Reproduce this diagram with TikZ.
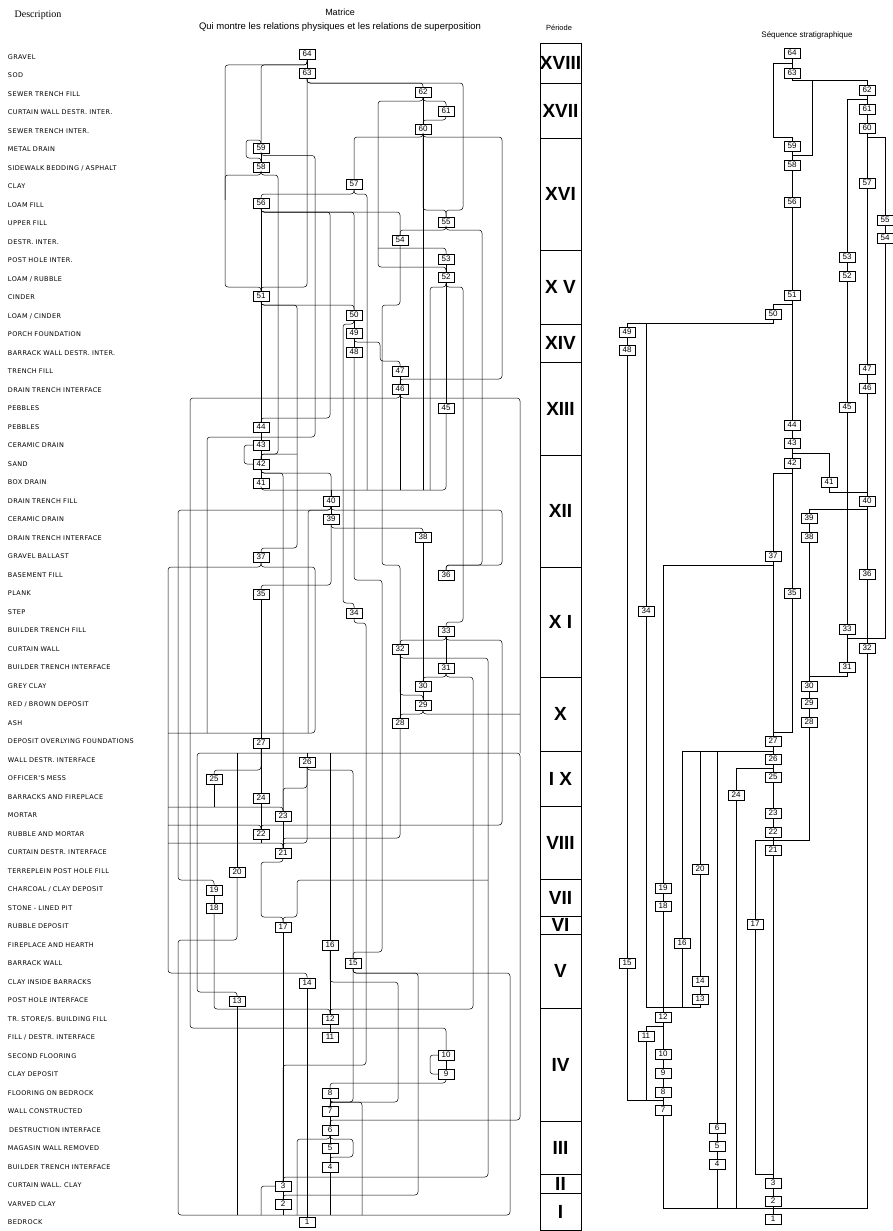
\documentclass[tikz,border=0pt]{standalone}
\usepackage{fontspec}
\setmainfont{Liberation Sans}
\newfontfamily\lblfont[LetterSpace=6]{DejaVu Sans}
\newfontfamily\hdfont{Liberation Serif}
\usetikzlibrary{positioning}

\begin{document}
\begin{tikzpicture}[
				x = 1pt, y = -1pt, % one unit per pixel, y downwards
				node distance = 18.5pt, % row spacing of the descriptions
				line width = 0.5pt, % line style
				font=\fontsize{8}{8}\selectfont
				]
				
				\tikzstyle{unit}=[
				draw,
				inner sep = 0pt,
				minimum width = 16pt,
				minimum height = 10pt,
				font = \fontsize{8}{8}\selectfont
				]
				\tikzstyle{desc}=[text width = 150pt, align = left, inner sep = 0pt,
				font = \lblfont\fontsize{6.5}{6.5}\selectfont]
				\tikzstyle{period}=[draw, line width = 0.6pt, minimum width = 41pt, inner sep = 0pt,
				font = \fontsize{19}{19}\selectfont\bfseries]
				\tikzstyle{wire}=[rounded corners = 3pt]
				
				\useasboundingbox (0,0) rectangle (893,1231);
				
				% titles
				\node[font=\hdfont\fontsize{10}{10}\selectfont] (hdesc) at (38,15) {Description};
				\node[font=\fontsize{9}{9}\selectfont] (hmat) at (340,12) {Matrice};
				\node[font=\fontsize{9.5}{9.5}\selectfont] (hsub) at (340,27) {Qui montre les relations physiques et les relations de superposition};
				\node[font=\fontsize{7.5}{7.5}\selectfont] (hper) at (559,28) {Période};
				\node[font=\fontsize{8}{8}\selectfont] (hseq) at (807,35) {Séquence stratigraphique};
				
				% descriptions
				\node[desc] (d64) at (83,57) {GRAVEL};
				\node[desc] (d63) [below of=d64] {SOD};
				\node[desc] (d62) [below of=d63] {SEWER TRENCH FILL};
				\node[desc] (d61) [below of=d62] {CURTAIN WALL DESTR. INTER.};
				\node[desc] (d60) [below of=d61] {SEWER TRENCH INTER.};
				\node[desc] (d59) [below of=d60] {METAL DRAIN};
				\node[desc] (d58) [below of=d59] {SIDEWALK BEDDING / ASPHALT};
				\node[desc] (d57) [below of=d58] {CLAY};
				\node[desc] (d56) [below of=d57] {LOAM FILL};
				\node[desc] (d55) [below of=d56] {UPPER FILL};
				\node[desc] (d54) [below of=d55] {DESTR. INTER.};
				\node[desc] (d53) [below of=d54] {POST HOLE INTER.};
				\node[desc] (d52) [below of=d53] {LOAM / RUBBLE};
				\node[desc] (d51) [below of=d52] {CINDER};
				\node[desc] (d50) [below of=d51] {LOAM / CINDER};
				\node[desc] (d49) [below of=d50] {PORCH FOUNDATION};
				\node[desc] (d48) [below of=d49] {BARRACK WALL DESTR. INTER.};
				\node[desc] (d47) [below of=d48] {TRENCH FILL};
				\node[desc] (d46) [below of=d47] {DRAIN TRENCH INTERFACE};
				\node[desc] (d45) [below of=d46] {PEBBLES};
				\node[desc] (d44) [below of=d45] {PEBBLES};
				\node[desc] (d43) [below of=d44] {CERAMIC DRAIN};
				\node[desc] (d42) [below of=d43] {SAND};
				\node[desc] (d41) [below of=d42] {BOX DRAIN};
				\node[desc] (d40) [below of=d41] {DRAIN TRENCH FILL};
				\node[desc] (d39) [below of=d40] {CERAMIC DRAIN};
				\node[desc] (d38) [below of=d39] {DRAIN TRENCH INTERFACE};
				\node[desc] (d37) [below of=d38] {GRAVEL BALLAST};
				\node[desc] (d36) [below of=d37] {BASEMENT FILL};
				\node[desc] (d35) [below of=d36] {PLANK};
				\node[desc] (d34) [below of=d35] {STEP};
				\node[desc] (d33) [below of=d34] {BUILDER TRENCH FILL};
				\node[desc] (d32) [below of=d33] {CURTAIN WALL};
				\node[desc] (d31) [below of=d32] {BUILDER TRENCH INTERFACE};
				\node[desc] (d30) [below of=d31] {GREY CLAY};
				\node[desc] (d29) [below of=d30] {RED / BROWN DEPOSIT};
				\node[desc] (d28) [below of=d29] {ASH};
				\node[desc] (d27) [below of=d28] {DEPOSIT OVERLYING FOUNDATIONS};
				\node[desc] (d26) [below of=d27] {WALL DESTR. INTERFACE};
				\node[desc] (d25) [below of=d26] {OFFICER'S MESS};
				\node[desc] (d24) [below of=d25] {BARRACKS AND FIREPLACE};
				\node[desc] (d23) [below of=d24] {MORTAR};
				\node[desc] (d22) [below of=d23] {RUBBLE AND MORTAR};
				\node[desc] (d21) [below of=d22] {CURTAIN DESTR. INTERFACE};
				\node[desc] (d20) [below of=d21] {TERREPLEIN POST HOLE FILL};
				\node[desc] (d19) [below of=d20] {CHARCOAL / CLAY DEPOSIT};
				\node[desc] (d18) [below of=d19] {STONE - LINED PIT};
				\node[desc] (d17) [below of=d18] {RUBBLE DEPOSIT};
				\node[desc] (d16) [below of=d17] {FIREPLACE AND HEARTH};
				\node[desc] (d15) [below of=d16] {BARRACK WALL};
				\node[desc] (d14) [below of=d15] {CLAY INSIDE BARRACKS};
				\node[desc] (d13) [below of=d14] {POST HOLE INTERFACE};
				\node[desc] (d12) [below of=d13] {TR. STORE/S. BUILDING FILL};
				\node[desc] (d11) [below of=d12] {FILL / DESTR. INTERFACE};
				\node[desc] (d10) [below of=d11] {SECOND FLOORING};
				\node[desc] (d9) [below of=d10] {CLAY DEPOSIT};
				\node[desc] (d8) [below of=d9] {FLOORING ON BEDROCK};
				\node[desc] (d7) [below of=d8] {WALL CONSTRUCTED};
				\node[desc] (d6) [below of=d7] {\,DESTRUCTION INTERFACE};
				\node[desc] (d5) [below of=d6] {MAGASIN WALL REMOVED};
				\node[desc] (d4) [below of=d5] {BUILDER TRENCH INTERFACE};
				\node[desc] (d3) [below of=d4] {CURTAIN WALL. CLAY};
				\node[desc] (d2) [below of=d3] {VARVED CLAY};
				\node[desc] (d1) [below of=d2] {BEDROCK};
				
				% matrix units
				\node[unit] (m64) at (307,54) {64};
				\node[unit] (m63) at (307,73) {63};
				\node[unit] (m62) at (423,92) {62};
				\node[unit] (m61) at (446,111) {61};
				\node[unit] (m60) at (423,129) {60};
				\node[unit] (m59) at (261,148) {59};
				\node[unit] (m58) at (261,167) {58};
				\node[unit] (m57) at (354,184) {57};
				\node[unit] (m56) at (261,203) {56};
				\node[unit] (m55) at (446,222) {55};
				\node[unit] (m54) at (400,240) {54};
				\node[unit] (m53) at (446,259) {53};
				\node[unit] (m52) at (446,277) {52};
				\node[unit] (m51) at (261,296) {51};
				\node[unit] (m50) at (354,315) {50};
				\node[unit] (m49) at (354,333) {49};
				\node[unit] (m48) at (354,352) {48};
				\node[unit] (m47) at (400,371) {47};
				\node[unit] (m46) at (400,389) {46};
				\node[unit] (m45) at (446,408) {45};
				\node[unit] (m44) at (261,427) {44};
				\node[unit] (m43) at (261,445) {43};
				\node[unit] (m42) at (261,464) {42};
				\node[unit] (m41) at (261,483) {41};
				\node[unit] (m40) at (331,501) {40};
				\node[unit] (m39) at (331,519) {39};
				\node[unit] (m38) at (423,537) {38};
				\node[unit] (m37) at (261,557) {37};
				\node[unit] (m36) at (446,575) {36};
				\node[unit] (m35) at (261,594) {35};
				\node[unit] (m34) at (354,613) {34};
				\node[unit] (m33) at (446,631) {33};
				\node[unit] (m32) at (400,649) {32};
				\node[unit] (m31) at (446,668) {31};
				\node[unit] (m30) at (423,686) {30};
				\node[unit] (m29) at (423,705) {29};
				\node[unit] (m28) at (400,723) {28};
				\node[unit] (m27) at (261,743) {27};
				\node[unit] (m26) at (307,762) {26};
				\node[unit] (m25) at (214,779) {25};
				\node[unit] (m24) at (261,798) {24};
				\node[unit] (m23) at (283,816) {23};
				\node[unit] (m22) at (261,834) {22};
				\node[unit] (m21) at (283,853) {21};
				\node[unit] (m20) at (237,872) {20};
				\node[unit] (m19) at (214,890) {19};
				\node[unit] (m18) at (214,908) {18};
				\node[unit] (m17) at (283,927) {17};
				\node[unit] (m16) at (330,945) {16};
				\node[unit] (m15) at (353,963) {15};
				\node[unit] (m14) at (307,983) {14};
				\node[unit] (m13) at (237,1001) {13};
				\node[unit] (m12) at (330,1019) {12};
				\node[unit] (m11) at (330,1037) {11};
				\node[unit] (m10) at (446,1055) {10};
				\node[unit] (m9) at (446,1074) {9};
				\node[unit] (m8) at (330,1093) {8};
				\node[unit] (m7) at (330,1111) {7};
				\node[unit] (m6) at (330,1130) {6};
				\node[unit] (m5) at (330,1148) {5};
				\node[unit] (m4) at (330,1167) {4};
				\node[unit] (m3) at (283,1186) {3};
				\node[unit] (m2) at (283,1204) {2};
				\node[unit] (m1) at (307,1222) {1};
				
				% junction points of the matrix
				\coordinate (t225) at (225,200);
				\coordinate (r53) at (378,248);
				\coordinate (r42) at (297,454);
				\coordinate (r17) at (488,880);
				\coordinate (j40) at (331,490);
				\coordinate (t430) at (430,490);
				\coordinate (t367) at (367,490);
				\coordinate (j27) at (261,753);
				\coordinate (t520) at (520,753);
				\coordinate (t714) at (520,714);
				\coordinate (t733) at (168,733);
				\coordinate (t207) at (207,733);
				\coordinate (t308) at (308,733);
				\coordinate (t807) at (168,807);
				\coordinate (t825) at (168,825);
				\coordinate (t843) at (168,843);
				\coordinate (b1) at (307,1215);
				\coordinate (b261) at (261,1215);
				\coordinate (b297) at (297,1215);
				\coordinate (b362) at (362,1215);
				
				% matrix relations
				\draw[wire] (m64) -- (m63);
				\draw[wire] (m64.south) -- (307,65) -- (225,65) -- (225,287) -| (m51.north);
				\draw[wire] (m64.south) -- (307,65) -- (261,65) -- (m59.north);
				\draw[wire] (m63.south) -- (307,287) -| (m51.north);
				\draw[wire] (m63.south) -- (307,83) -| (m62.north);
				\draw[wire] (m63.south) -- (307,83) -- (463,83) -- (463,210) -- (446,210) -- (m55.north);
				\draw[wire] (m62) -- (m60);
				\draw[wire] (m62.south) -- (423,101) -| (m61.north);
				\draw[wire] (m61.south) -- (446,120) -| (m60.north);
				\draw[wire] (m62.south) -- (423,101) -- (378,101) -- (378,267) -| (m52.north);
				\draw[wire] (r53) -| (m53.north);
				\draw[wire] (m52.south) -- (446,287) -- (463,287) -- (463,622) -| (m33.north);
				\draw[wire] (m52.south) -- (446,287) -- (430,287) -- (t430);
				\draw[wire] (m52) -- (m45);
				\draw[wire] (m60.south) -- (423,137) -| (m57.north);
				\draw[wire] (m60.south) -- (423,137) -- (502,137) -- (502,379) -| (m46.north);
				\draw[wire] (m60.south) -- (423,210) -| (m55.north);
				\draw (m60.south) -- (m60.south |- j40);
				\draw[wire] (m59.north) -- (261,140) -- (246,140) -- (246,158) -- (261,158) -- (m58.north);
				\draw[wire] (m59.south) -- (261,155.5) -- (315,155.5) -- (315,437) -- (207,437) -- (t207);
				\draw[wire] (m59) -- (m58);
				\draw[wire] (m58.south) -- (261,175) -- (278,175) -- (278,454) -| (m42.north);
				\draw[wire] (m58.south) -- (261,175) -- (225,175) -- (t225);
				\draw[wire] (m57.south) -- (354,194) -| (m56.north);
				\draw[wire] (m57.south) -- (354,194) -- (367,194) -- (t367);
				\draw[wire] (m56.south) -- (261,212) -| (m54.north);
				\draw[wire] (m56.south) -- (261,212) -| (m50.north);
				\draw[wire] (m56.south) -- (261,212) -- (330,212) -- (330,418) -| (m44.north);
				\draw[wire] (m56) -- (m51);
				\draw[wire] (m55.south) -- (446,230) -| (m54.north);
				\draw[wire] (m55.south) -- (446,230) -- (482,230) -- (482,565) -| (m36.north);
				\draw[wire] (m54.south) -- (400,305) -- (382,305) -- (382,565) -- (400,565) -- (m32.north);
				\draw[wire] (m53) -- (m52);
				\draw[wire] (m51.south) -- (261,305) -| (m50.north);
				\draw[wire] (m51.south) -- (261,305) -- (297,305) -- (297,548) -| (m37.north);
				\draw[wire] (r42) -| (m42.north);
				\draw[wire] (m51) -- (m44);
				\draw[wire] (m50) -- (m49);
				\draw[wire] (m49) -- (m48);
				\draw[wire] (m50.south) -- (354,324) -- (343,324) -- (343,603) -| (m34.north);
				\draw[wire] (m49.south) -- (354,342) -- (380,342) -- (380,361) -| (m47.north);
				\draw[wire] (m48.south) -- (354,580) -- (382,580) -- (382,952) -| (m15.north);
				\draw[wire] (m47) -- (m46);
				\draw[wire] (m46.south) -- (400,398) -- (190,398) -- (190,1028) -| (m10.north);
				\draw[wire] (m46.south) -- (400,398) -- (520,398) -- (t520);
				\draw (m46.south) -- (m46.south |- j40);
				\draw[wire] (m41.south) |- (446,490) -- (m45.south);
				\draw (j40) -- (m40.north);
				\draw[wire] (m44) -- (m43);
				\draw[wire] (m43) -- (m42);
				\draw[wire] (m42) -- (m41);
				\draw[wire] (m43.west) -- (244,445) -- (244,464) -- (m42.west);
				\draw[wire] (m42.south) -- (261,473) -| (m23.north);
				\draw[wire] (m42.south) -- (261,473) -| (m40.north);
				\draw[wire] (m40) -- (m39);
				\draw[wire] (m40.south) -- (331,510) -- (178,510) -- (178,880) -| (m19.north);
				\draw[wire] (m40.south) -- (331,510) -- (308,510) -- (t308);
				\draw[wire] (m40.south) -- (331,510) -- (502,510) -- (502,565) -| (m36.north);
				\draw[wire] (m39.south) -- (331,528) -| (m38.north);
				\draw[wire] (m39.south) -- (331,585) -| (m35.north);
				\draw[wire] (m38) -- (m30);
				\draw[wire] (m37.south) -- (261,567) -- (168,567) -- (168,973) -| (m14.north);
				\draw[wire] (m37.south) -- (261,567) -- (315,567) -- (315,733) -- (t733);
				\draw (m27.north) -- (m27.north |- t733);
				\draw[wire] (t807) -| (m23.north);
				\draw[wire] (t825) -| (m22.north);
				\draw[wire] (t843) -| (m21.north);
				\draw[wire] (m35) -- (m27);
				\draw[wire] (m34.south) -- (354,623) -- (366,623) -- (366,1065) -| (m3.north);
				\draw[wire] (m33) -- (m31);
				\draw[wire] (m33.south) -- (446,640) -| (m32.north);
				\draw[wire] (m33.south) -- (446,640) -- (502,640) -- (502,825) -| (m22.north);
				\draw[wire] (m32.south) -- (400,658) -- (488,658) -- (488,1177) -| (m3.north);
				\draw[wire] (r17) -- (297,880) -- (297,917) -| (m17.north);
				\draw[wire] (m32.south) -- (400,695) -| (m29.north);
				\draw[wire] (m32) -- (m28);
				\draw[wire] (m31.south) -- (446,677) -| (m30.north);
				\draw[wire] (m31.south) -- (446,677) -- (473,677) -- (473,1009) -| (m12.north);
				\draw[wire] (m30) -- (m29);
				\draw[wire] (m29.south) -- (423,714) -| (m28.north);
				\draw[wire] (m29.south) -- (423,714) -- (t714);
				\draw[wire] (m28.south) -- (400,838) -| (m21.north);
				\draw[wire] (m13.north) -- (237,992) -- (197,992) -- (197,753) -- (520,753) -- (520,1120) -| (m6.north);
				\draw (m26.north) -- (m26.north |- j27);
				\draw (m16.north) -- (m16.north |- j27);
				\draw (m20.north) -- (m20.north |- j27);
				\draw[wire] (m27) -- (m24);
				\draw[wire] (m27.south) -- (261,770) -| (m25.north);
				\draw[wire] (m26.south) -- (307,770) -| (m15.north);
				\draw[wire] (m26.south) -- (307,788) -| (m23.north);
				\draw[wire] (m26.south) -- (307,843) -| (m21.north);
				\draw (m25.south) -- (m25.south |- t807);
				\draw[wire] (m24) -- (m22);
				\draw[wire] (m23) -- (m21);
				\draw (m22.south) -- (m22.south |- t843);
				\draw[wire] (m21.south) -- (283,862) -- (261,862) -- (261,917) -| (m17.north);
				\draw[wire] (m20.south) -- (237,940) -- (178,940) -- (178,1215) -- (510,1215) -- (510,973) -- (353,973) -- (m15.south);
				\draw[wire] (m19) -- (m18);
				\draw[wire] (m18.south) -- (214,1009) -| (m12.north);
				\draw[wire] (m17) -- (m3);
				\draw[wire] (m16) -- (m12);
				\draw[wire] (m16.south) -- (330,982) -- (398,982) -- (398,1102) -| (m7.north);
				\draw[wire] (m15.south) -- (353,1102) -| (m7.north);
				\draw[wire] (m15.south) -- (353,973) -- (418,973) -- (418,1195) -| (m2.north);
				\draw[wire] (m14) -- (m1);
				\draw (m13.south) -- (m13.south |- b1);
				\draw[wire] (m12) -- (m11);
				\draw[wire] (m10) -- (m9);
				\draw[wire] (m10.west) -- (430,1055) -- (430,1074) -- (m9.west);
				\draw[wire] (m9.south) -- (446,1083) -| (m8.north);
				\draw[wire] (m8) -- (m7);
				\draw[wire] (m7) -- (m6);
				\draw[wire] (m6) -- (m5);
				\draw[wire] (m5) -- (m4);
				\draw[wire] (m8.south) -- (330,1102) -- (362,1102) -- (b362);
				\draw[wire] (m6.south) -- (330,1139) -- (297,1139) -- (b297);
				\draw[wire] (m6.south) -- (330,1139) -- (353,1139) -- (353,1157) -| (m4.north);
				\draw (m4.south) -- (m4.south |- b1);
				\draw[wire] (m3) -- (m2);
				\draw[wire] (m3.west) -- (261,1186) -- (b261);
				\draw (m2.south) -- (m2.south |- b1);
				
				% periods
				\node[period, minimum height=40pt] (p18) at (560.5,63) {XVIII};
				\node[period, minimum height=55pt] (p17) at (560.5,110.5) {XVII};
				\node[period, minimum height=112pt] (p16) at (560.5,194) {XVI};
				\node[period, minimum height=74pt] (p15) at (560.5,287) {X V};
				\node[period, minimum height=38pt] (p14) at (560.5,343) {XIV};
				\node[period, minimum height=93pt] (p13) at (560.5,408.5) {XIII};
				\node[period, minimum height=112pt] (p12) at (560.5,511) {XII};
				\node[period, minimum height=110pt] (p11) at (560.5,622) {X I};
				\node[period, minimum height=74pt] (p10) at (560.5,714) {X};
				\node[period, minimum height=55pt] (p9) at (560.5,778.5) {I X};
				\node[period, minimum height=73pt] (p8) at (560.5,842.5) {VIII};
				\node[period, minimum height=37pt] (p7) at (560.5,897.5) {VII};
				\node[period, minimum height=18pt] (p6) at (560.5,925) {VI};
				\node[period, minimum height=74pt] (p5) at (560.5,971) {V};
				\node[period, minimum height=113pt] (p4) at (560.5,1064.5) {IV};
				\node[period, minimum height=53pt] (p3) at (560.5,1147.5) {III};
				\node[period, minimum height=19pt] (p2) at (560.5,1183.5) {II};
				\node[period, minimum height=37pt] (p1) at (560.5,1211.5) {I};
				
				% stratigraphic sequence
				\node[unit] (s64) at (792,53) {64};
				\node[unit] (s63) at (792,73) {63};
				\node[unit] (s62) at (867,90) {62};
				\node[unit] (s61) at (867,109) {61};
				\node[unit] (s60) at (867,128) {60};
				\node[unit] (s59) at (792,146) {59};
				\node[unit] (s58) at (792,165) {58};
				\node[unit] (s57) at (867,183) {57};
				\node[unit] (s56) at (792,202) {56};
				\node[unit] (s55) at (885,220) {55};
				\node[unit] (s54) at (885,238) {54};
				\node[unit] (s53) at (847,257) {53};
				\node[unit] (s52) at (847,276) {52};
				\node[unit] (s51) at (792,295) {51};
				\node[unit] (s50) at (773,314) {50};
				\node[unit] (s49) at (627,332) {49};
				\node[unit] (s48) at (627,350) {48};
				\node[unit] (s47) at (867,369) {47};
				\node[unit] (s46) at (867,388) {46};
				\node[unit] (s45) at (847,407) {45};
				\node[unit] (s44) at (792,425) {44};
				\node[unit] (s43) at (792,443) {43};
				\node[unit] (s42) at (792,463) {42};
				\node[unit] (s41) at (829,482) {41};
				\node[unit] (s40) at (867,501) {40};
				\node[unit] (s39) at (809,518) {39};
				\node[unit] (s38) at (809,537) {38};
				\node[unit] (s37) at (773,556) {37};
				\node[unit] (s36) at (867,574) {36};
				\node[unit] (s35) at (792,593) {35};
				\node[unit] (s34) at (646,611) {34};
				\node[unit] (s33) at (847,629) {33};
				\node[unit] (s32) at (867,648) {32};
				\node[unit] (s31) at (847,667) {31};
				\node[unit] (s30) at (809,686) {30};
				\node[unit] (s29) at (809,703) {29};
				\node[unit] (s28) at (809,722) {28};
				\node[unit] (s27) at (773,741) {27};
				\node[unit] (s26) at (773,759) {26};
				\node[unit] (s25) at (773,777) {25};
				\node[unit] (s24) at (736,795) {24};
				\node[unit] (s23) at (773,813) {23};
				\node[unit] (s22) at (773,832) {22};
				\node[unit] (s21) at (773,850) {21};
				\node[unit] (s20) at (700,869) {20};
				\node[unit] (s19) at (663,888) {19};
				\node[unit] (s18) at (663,906) {18};
				\node[unit] (s17) at (755,924) {17};
				\node[unit] (s16) at (682,943) {16};
				\node[unit] (s15) at (627,963) {15};
				\node[unit] (s14) at (700,981) {14};
				\node[unit] (s13) at (700,999) {13};
				\node[unit] (s12) at (663,1017) {12};
				\node[unit] (s11) at (646,1036) {11};
				\node[unit] (s10) at (663,1054) {10};
				\node[unit] (s9) at (663,1073) {9};
				\node[unit] (s8) at (663,1092) {8};
				\node[unit] (s7) at (663,1110) {7};
				\node[unit] (s6) at (717,1128) {6};
				\node[unit] (s5) at (717,1146) {5};
				\node[unit] (s4) at (717,1164) {4};
				\node[unit] (s3) at (773,1183) {3};
				\node[unit] (s2) at (773,1201) {2};
				\node[unit] (s1) at (773,1219) {1};
				
				\coordinate (j12) at (663,1007);
				\coordinate (j27s) at (773,751);
				\coordinate (j7) at (646,1100);
				\coordinate (r58) at (812,80);
				\coordinate (r34) at (646,323);
				\coordinate (b24) at (736,1208);
				\coordinate (b4) at (717,1208);
				
				\draw (s64) -- (s63);
				\draw (s64.south) -- (792,63) -- (773,63) -- (773,137) -- (792,137) -- (s59.north);
				\draw (s63.south) -- (792,80) -| (s62.north);
				\draw (r58) -- (812,155) -- (792,155) -- (s58.north);
				\draw (s62) -- (s61);
				\draw (s61) -- (s60);
				\draw (s62.south) -- (867,99) -| (s53.north);
				\draw (s60) -- (s57);
				\draw (s60.south) -- (867,137) -| (s55.north);
				\draw (s59) -- (s58);
				\draw (s58) -- (s56);
				\draw (s56) -- (s51);
				\draw (s55) -- (s54);
				\draw (s54.south) -- (885,638) -- (847,638) -- (s33.south);
				\draw (s53) -- (s52);
				\draw (s52) -- (s45);
				\draw (s45) -- (s33);
				\draw (s33) -- (s31);
				\draw (s57) -- (s47);
				\draw (s47) -- (s46);
				\draw (s46) -- (s40);
				\draw (s40) -- (s36);
				\draw (s36) -- (s32);
				\draw (s51.south) -- (792,304) -| (s50.north);
				\draw (s51) -- (s44);
				\draw (s50.south) -- (773,323) -| (s49.north);
				\draw (r34) -- (s34.north);
				\draw (s49) -- (s48);
				\draw (s48) -- (s15);
				\draw (s15.south) -- (627,1100) -| (s7.north);
				\draw (s11.south) -- (j7);
				\draw (s12.south) -- (663,1026) -| (s11.north);
				\draw (s12) -- (s10);
				\draw (s10) -- (s9);
				\draw (s9) -- (s8);
				\draw (s8) -- (s7);
				\draw (s34.south) |- (j12);
				\draw (s13.south) |- (j12);
				\draw (s16.south) -- (s16.south |- j12);
				\draw (s19) -- (s18);
				\draw (s18) -- (s12);
				\draw (s20) -- (s14);
				\draw (s14) -- (s13);
				\draw (s44) -- (s43);
				\draw (s43) -- (s42);
				\draw (s43.south) -- (792,453) -| (s41.north);
				\draw (s41.south) -- (829,492) -| (s40.north);
				\draw (s40.south) -- (867,509) -| (s39.north);
				\draw (s39) -- (s38);
				\draw (s38) -- (s30);
				\draw (s42.south) -- (792,473) -| (s37.north);
				\draw (s42) -- (s35);
				\draw (s37.south) -- (773,565) -| (s19.north);
				\draw (s37) -- (s27);
				\draw (s35.south) -- (792,732) -| (s27.north);
				\draw (s31.south) -- (847,676) -| (s30.north);
				\draw (s30) -- (s29);
				\draw (s29) -- (s28);
				\draw (s28.south) -- (809,840) -| (s17.north);
				\draw (s27) -- (s26);
				\draw (s27.south) -- (j27s) -| (s16.north);
				\draw (s20.north) -- (s20.north |- j27s);
				\draw (s6.north) -- (s6.north |- j27s);
				\draw (s26) -- (s25);
				\draw (s26.south) -- (773,768) -| (s24.north);
				\draw (s25) -- (s23);
				\draw (s23) -- (s22);
				\draw (s22) -- (s21);
				\draw (s21) -- (s3);
				\draw (s17.south) -- (755,1174) -| (s3.north);
				\draw (s3) -- (s2);
				\draw (s2) -- (s1);
				\draw (s6) -- (s5);
				\draw (s5) -- (s4);
				\draw (s4.south) -- (b4);
				\draw (s24.south) -- (b24);
				\draw (s7.south) |- (867,1208) -- (s32.south);
			\end{tikzpicture}
\end{document}
